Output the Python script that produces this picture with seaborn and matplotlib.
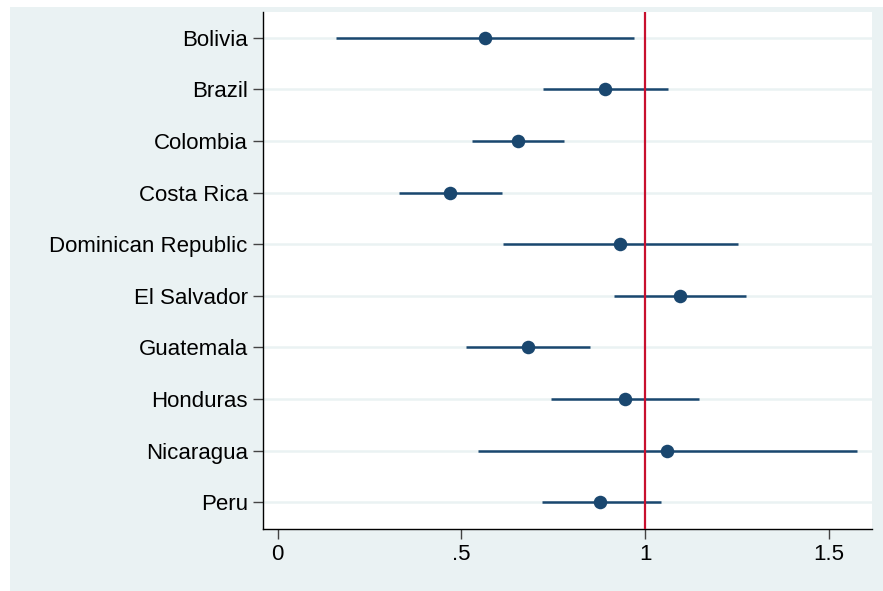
import numpy as np
import pandas as pd
import matplotlib
matplotlib.use("Agg")
import matplotlib.pyplot as plt
import seaborn as sns
from matplotlib.patches import Rectangle

# Data
countries = ["Bolivia", "Brazil", "Colombia", "Costa Rica", "Dominican Republic",
             "El Salvador", "Guatemala", "Honduras", "Nicaragua", "Peru"]
estimate = [0.564, 0.890, 0.654, 0.469, 0.932, 1.094, 0.680, 0.946, 1.060, 0.878]
ci_low = [0.158, 0.722, 0.529, 0.331, 0.614, 0.914, 0.512, 0.744, 0.544, 0.718]
ci_high = [0.970, 1.061, 0.779, 0.610, 1.252, 1.275, 0.849, 1.147, 1.575, 1.043]
x_ticks = [0, 0.5, 1, 1.5]
x_ticklabels = ["0", ".5", "1", "1.5"]

navy = "#1a476f"
cranberry = "#c8102e"
region_bg = "#eaf2f3"

sns.set_style("white")
plt.rcParams["font.family"] = ["Liberation Sans", "DejaVu Sans"]

df = pd.DataFrame({"country": countries, "estimate": estimate,
                   "lo": ci_low, "hi": ci_high})
df["pos"] = np.arange(len(df))

fig = plt.figure(figsize=(8.83, 5.91), dpi=100)
fig.patch.set_facecolor("white")
fig.patches.append(Rectangle((10 / 883, 0), 1, 1 - 7 / 591, transform=fig.transFigure,
                             facecolor=region_bg, edgecolor="none", zorder=-10))

ax = fig.add_axes([263 / 883, 1 - 529 / 591, (872 - 263) / 883, (529 - 12) / 591])
ax.set_facecolor("white")

# horizontal grid lines at each category
for p in df["pos"]:
    ax.axhline(p, color=region_bg, lw=1.8, zorder=0)

ax.hlines(df["pos"], df["lo"], df["hi"], color=navy, lw=1.8, zorder=2)
ax.axvline(1, color=cranberry, lw=1.6, zorder=3)
sns.scatterplot(data=df, x="estimate", y="pos", color=navy, s=95,
                edgecolor=navy, linewidth=0, zorder=4, ax=ax, legend=False)

ax.set_xlim(-0.04, 1.617)
ax.set_ylim(9.52, -0.5)
ax.set_yticks(df["pos"])
ax.set_yticklabels(countries, fontsize=16)
ax.set_xticks(x_ticks)
ax.set_xticklabels(x_ticklabels, fontsize=16)
ax.set_xlabel("")
ax.set_ylabel("")

for side in ["top", "right"]:
    ax.spines[side].set_visible(False)
for side in ["left", "bottom"]:
    ax.spines[side].set_color("black")
    ax.spines[side].set_linewidth(1.0)
ax.tick_params(axis="both", which="major", direction="out", length=7, width=1,
               color="#444444", labelcolor="black", pad=4, left=True, bottom=True)

fig.savefig("out.png", dpi=100, facecolor=fig.get_facecolor())
